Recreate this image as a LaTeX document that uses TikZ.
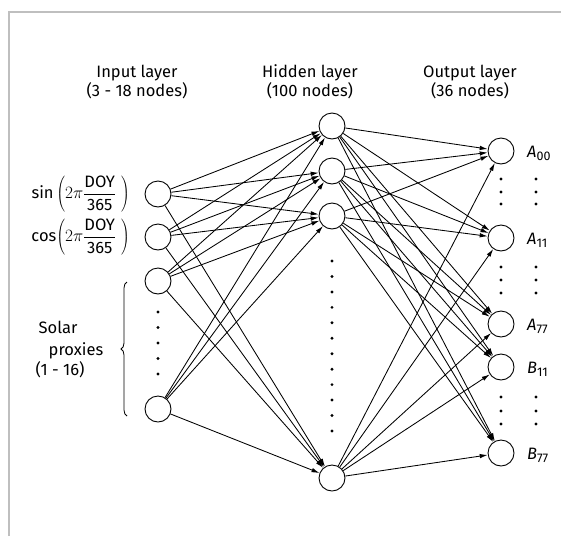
\documentclass[tikz,border=0pt]{standalone}
\usepackage{fontspec}
\setmainfont{Fira Sans}
\usetikzlibrary{arrows.meta,decorations.pathreplacing}
\begin{document}
\begin{tikzpicture}[x=1pt,y=-1pt,
  neuron/.style={circle,draw,line width=0.9pt,minimum size=26pt,inner sep=0pt},
  conn/.style={-{Latex[length=8pt,width=4.5pt]},line width=0.85pt},
  txt/.style={font=\fontsize{16.5}{19}\selectfont,inner sep=0pt},
  title/.style={txt,anchor=base},
  outlab/.style={txt,anchor=base west}]
\useasboundingbox (0,0) rectangle (561,536);
\draw[black!25,line width=2pt] (9,536) -- (9,12) -- (561,12);
% titles
\node[title] (t1a) at (137,77) {Input layer};
\node[title] (t1b) at (137,96) {(3 - 18 nodes)};
\node[title] (t2a) at (310,77) {Hidden layer};
\node[title] (t2b) at (310,96) {(100 nodes)};
\node[title] (t3a) at (470,77) {Output layer};
\node[title] (t3b) at (470,96) {(36 nodes)};
% input nodes
\node[neuron] (i1) at (158,194) {};
\node[neuron] (i2) at (158,237) {};
\node[neuron] (i3) at (158,281) {};
\node[neuron] (i4) at (158,409) {};
% hidden nodes
\node[neuron] (h1) at (332,126) {};
\node[neuron] (h2) at (332,171) {};
\node[neuron] (h3) at (332,216) {};
\node[neuron] (h4) at (332,478) {};
% output nodes
\node[neuron] (o1) at (501,151) {};
\node[neuron] (o2) at (501,238) {};
\node[neuron] (o3) at (501,324) {};
\node[neuron] (o4) at (501,367) {};
\node[neuron] (o5) at (501,453) {};
% connections
\foreach \i in {1,...,4} \foreach \h in {1,...,4} \draw[conn] (i\i) -- (h\h);
\foreach \h in {1,...,4} \foreach \o in {1,...,5} \draw[conn] (h\h) -- (o\o);
% dots
\foreach \y in {312,327.5,343,358.5,374} \fill (158,\y) circle (1.6pt);
\foreach \k in {0,...,11} \fill (332,261+15.45*\k) circle (1.6pt);
\foreach \x in {501,536} \foreach \y in {179,192,204,267,280,293,397,411,424} \fill (\x,\y) circle (1.6pt);
% input labels
\node[txt,anchor=east] (lsin) at (130,194) {sin\,$\left(2\pi\displaystyle\frac{\mbox{DOY}}{\mbox{365}}\;\right)$};
\node[txt,anchor=east] (lcos) at (130,237) {cos$\left(2\pi\displaystyle\frac{\mbox{DOY}}{\mbox{365}}\;\right)$};
\node[title] (s1) at (58,333) {Solar};
\node[title] (s2) at (76,355) {proxies};
\node[title] (s3) at (60,375) {(1 - 16)};
\draw[line width=0.8pt,decorate,decoration={brace,amplitude=6pt}] (127,416) -- (127,282);
% output labels
\node[outlab] (la1) at (527,157) {\textit{A}{\fontsize{12.5}{14}\selectfont\raisebox{-3pt}{00}}};
\node[outlab] (la2) at (527,244) {\textit{A}{\fontsize{12.5}{14}\selectfont\raisebox{-3pt}{11}}};
\node[outlab] (la3) at (527,330) {\textit{A}{\fontsize{12.5}{14}\selectfont\raisebox{-3pt}{77}}};
\node[outlab] (lb1) at (527,373) {\textit{B}{\fontsize{12.5}{14}\selectfont\raisebox{-3pt}{11}}};
\node[outlab] (lb2) at (527,459) {\textit{B}{\fontsize{12.5}{14}\selectfont\raisebox{-3pt}{77}}};
\end{tikzpicture}
\end{document}
